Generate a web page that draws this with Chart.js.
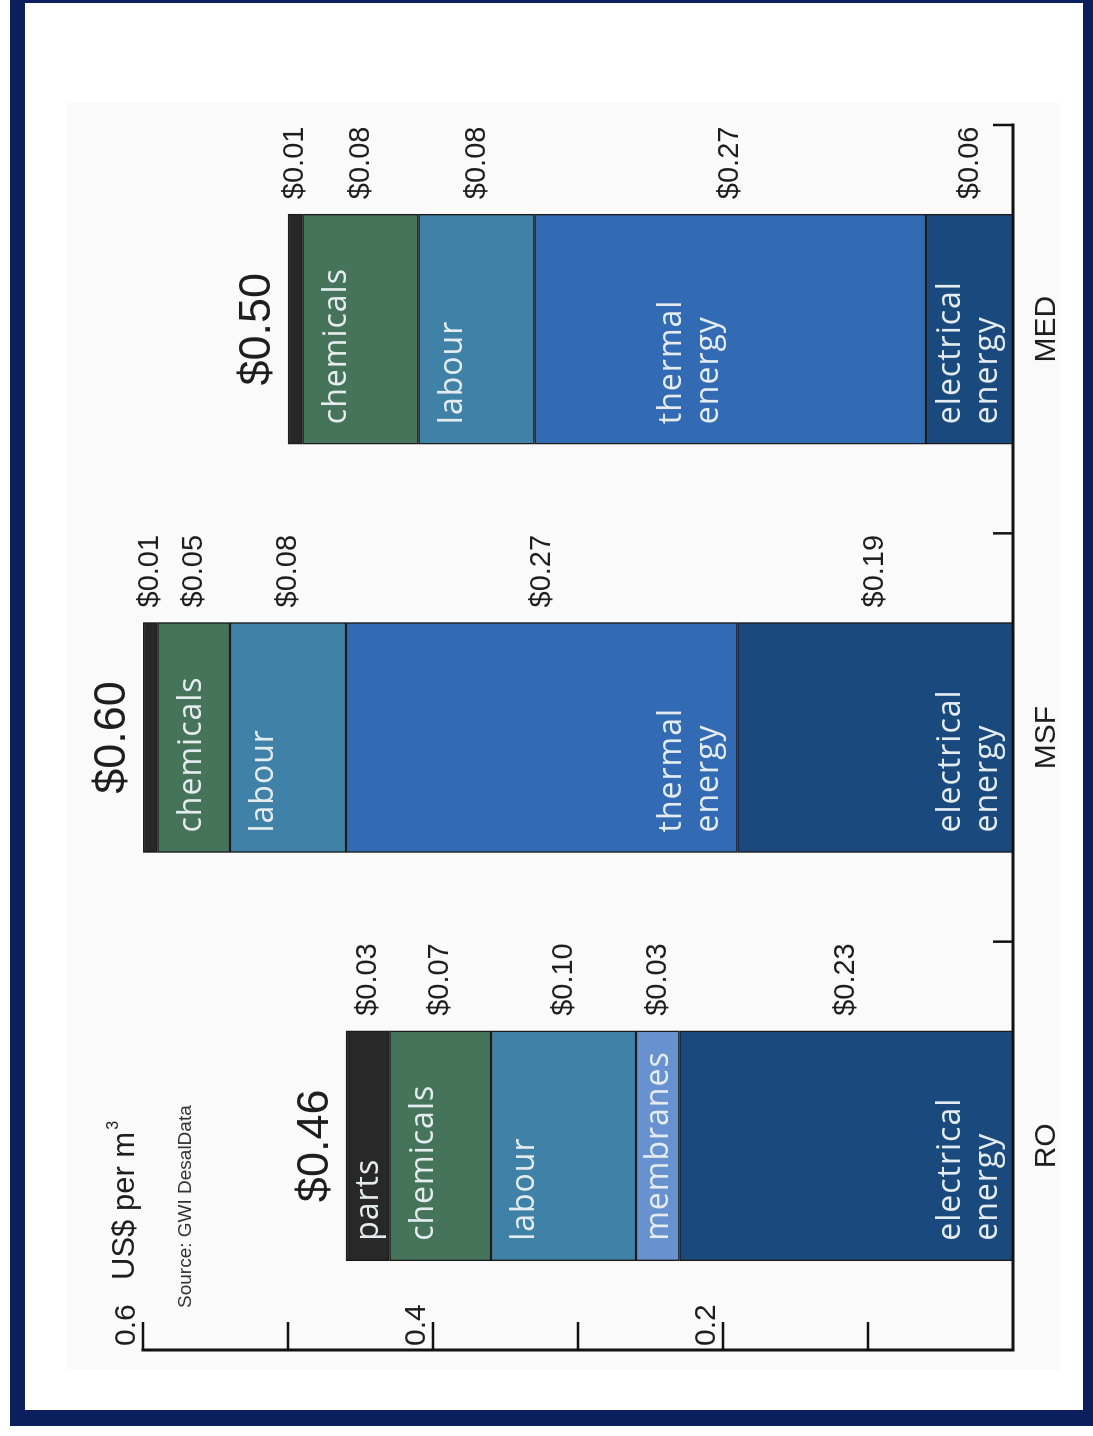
<!DOCTYPE html>
<html><head><meta charset="utf-8">
<script src="https://cdn.jsdelivr.net/npm/chart.js@4.4.1/dist/chart.umd.min.js"></script>
<style>
html,body{margin:0;padding:0;background:#fff;width:1093px;height:1436px;overflow:hidden;}
#frame{position:absolute;left:10px;top:0;width:1083px;height:1426px;box-sizing:border-box;border-style:solid;border-color:#0b1f5c;border-width:3px 10px 16px 15px;}
#wrap{position:absolute;left:25px;top:1410px;width:1408px;height:1058px;transform-origin:0 0;transform:rotate(-90deg);}
canvas{display:block;}
</style></head><body>
<div id="frame"></div>
<div id="wrap"><canvas id="c" width="1408" height="1058"></canvas></div>
<script>
// ---- data ----
const categories = ['RO', 'MSF', 'MED'];
const totals = [0.46, 0.60, 0.50];
const electricalEnergy = [0.23, 0.19, 0.06];
const membranes = [0.03, null, null];
const thermalEnergy = [null, 0.27, 0.27];
const labour = [0.10, 0.08, 0.08];
const chemicals = [0.07, 0.05, 0.08];
const parts = [0.03, 0.01, 0.01];
const valueTicks = [0.1, 0.2, 0.3, 0.4, 0.5, 0.6];
const labelledTicks = [0.2, 0.4, 0.6];
const unitLabel = 'US$ per m';
const unitSup = '3';
const sourceLabel = 'Source: GWI DesalData';

const seriesNames = ['electrical energy', 'membranes', 'thermal energy', 'labour', 'chemicals', 'parts'];
const seriesData = [electricalEnergy, membranes, thermalEnergy, labour, chemicals, parts];
const seriesColors = ['#1a4a7d', '#6792cf', '#326bb3', '#4082a7', '#46745a', '#282828'];

const datasets = seriesNames.map((n, i) => ({
  label: n,
  data: seriesData[i],
  backgroundColor: seriesColors[i],
  borderColor: '#1c1c1c',
  borderWidth: 1.5,
  borderSkipped: false,
  barThickness: 230,
  stack: 's'
}));

const SANS = '"Liberation Sans", Arial, sans-serif';
const INBAR = '"Open Sans", "DejaVu Sans", sans-serif';

const decor = {
  id: 'decor',
  beforeDraw(chart) {
    const ctx = chart.ctx;
    ctx.save();
    ctx.fillStyle = '#fafafa';
    ctx.fillRect(40, 42, 1267, 993);
    ctx.restore();
  },
  afterDatasetsDraw(chart) {
    const ctx = chart.ctx;
    const ys = chart.scales.y, xs = chart.scales.x;
    const area = chart.chartArea;
    ctx.save();
    // axes
    ctx.strokeStyle = '#111';
    ctx.lineWidth = 3;
    ctx.lineCap = 'square';
    ctx.beginPath();
    ctx.moveTo(area.left, ys.getPixelForValue(0.6));
    ctx.lineTo(area.left, ys.getPixelForValue(0));
    ctx.lineTo(area.right, ys.getPixelForValue(0));
    ctx.stroke();
    ctx.lineWidth = 2.5;
    ctx.lineCap = 'butt';
    valueTicks.forEach(v => {
      const p = ys.getPixelForValue(v);
      ctx.beginPath(); ctx.moveTo(area.left, p); ctx.lineTo(area.left + 28, p); ctx.stroke();
    });
    // category boundary ticks
    const y0 = ys.getPixelForValue(0);
    for (let j = 1; j <= categories.length; j++) {
      const b = j < categories.length
        ? (xs.getPixelForValue(j - 1) + xs.getPixelForValue(j)) / 2
        : area.right;
      ctx.beginPath(); ctx.moveTo(b, y0); ctx.lineTo(b, y0 - 20); ctx.stroke();
    }

    // unit + source
    const p06 = ys.getPixelForValue(0.6);
    ctx.fillStyle = '#1e1e1e';
    ctx.font = '31px ' + SANS;
    ctx.textAlign = 'left';
    ctx.textBaseline = 'middle';
    const ux = area.left + 70, uy = p06 - 18;
    ctx.fillText(unitLabel, ux, uy);
    const uw = ctx.measureText(unitLabel).width;
    ctx.font = '16px ' + SANS;
    ctx.fillText(unitSup, ux + uw + 2, uy - 11);
    ctx.font = '19px "Liberation Sans Narrow", ' + SANS;
    ctx.fillStyle = '#333';
    ctx.fillText(sourceLabel, area.left + 42, p06 + 43);

    // find thermal alignment
    let thermalBase = Infinity;
    const ti = seriesNames.indexOf('thermal energy');
    chart.getDatasetMeta(ti).data.forEach((el, j) => {
      if (thermalEnergy[j] != null) thermalBase = Math.min(thermalBase, el.getProps(['base'], true).base);
    });

    // segments
    chart.data.datasets.forEach((ds, i) => {
      const meta = chart.getDatasetMeta(i);
      meta.data.forEach((el, j) => {
        const v = ds.data[j];
        if (v == null) return;
        const {x, y, base, width} = el.getProps(['x', 'y', 'base', 'width'], true);
        const top = Math.min(y, base), bot = Math.max(y, base);
        // value label beside the bar
        ctx.font = '29px ' + SANS;
        ctx.fillStyle = '#1e1e1e';
        ctx.textAlign = 'left';
        ctx.textBaseline = 'middle';
        ctx.letterSpacing = '0px';
        ctx.fillText('$' + v.toFixed(2), x + width / 2 + 15, (top + bot) / 2);
        // in-bar label
        const h = bot - top;
        if (h < 30) return;
        const name = ds.label;
        const lx = x - width / 2 + 20;
        ctx.font = '32px ' + INBAR;
        ctx.fillStyle = '#e4ecef';
        ctx.letterSpacing = '1px';
        if (name.endsWith('energy')) {
          const lines = name.split(' ');
          let b2 = name === 'thermal energy' ? thermalBase - 20 : bot - 16;
          ctx.textBaseline = 'alphabetic';
          ctx.fillText(lines[0], lx, b2 - 37);
          ctx.fillText(lines[1], lx, b2);
        } else if (h < 60) {
          ctx.textBaseline = 'middle';
          ctx.fillText(name, lx, (top + bot) / 2 + 1);
        } else {
          ctx.textBaseline = 'alphabetic';
          ctx.fillText(name, lx, top + 43);
        }
        ctx.letterSpacing = '0px';
      });
    });

    // totals
    ctx.font = '45px ' + SANS;
    ctx.fillStyle = '#1e1e1e';
    ctx.textAlign = 'center';
    ctx.textBaseline = 'alphabetic';
    totals.forEach((t, j) => {
      ctx.fillText('$' + t.toFixed(2), xs.getPixelForValue(j), ys.getPixelForValue(t) - 18);
    });
    ctx.restore();
  }
};

new Chart(document.getElementById('c'), {
  type: 'bar',
  data: { labels: categories, datasets },
  options: {
    responsive: false,
    devicePixelRatio: 1,
    animation: false,
    layout: { padding: { left: 50, right: 123, top: 118, bottom: 0 } },
    plugins: { legend: { display: false }, tooltip: { enabled: false } },
    scales: {
      x: {
        stacked: true,
        grid: { display: false },
        border: { display: false },
        ticks: { color: '#1e1e1e', font: { family: SANS, size: 30 }, padding: 8 },
        afterFit: s => { s.height = 70; }
      },
      y: {
        stacked: true,
        min: 0, max: 0.6,
        grid: { display: false },
        border: { display: false },
        afterBuildTicks: s => { s.ticks = valueTicks.map(v => ({ value: v })); },
        ticks: {
          mirror: true, padding: 4, labelOffset: -16,
          color: '#1e1e1e', font: { family: SANS, size: 30 },
          callback: v => labelledTicks.includes(v) ? v.toFixed(1) : ''
        },
        afterFit: s => { s.width = 10; }
      }
    }
  },
  plugins: [decor]
});
</script>
</body></html>
